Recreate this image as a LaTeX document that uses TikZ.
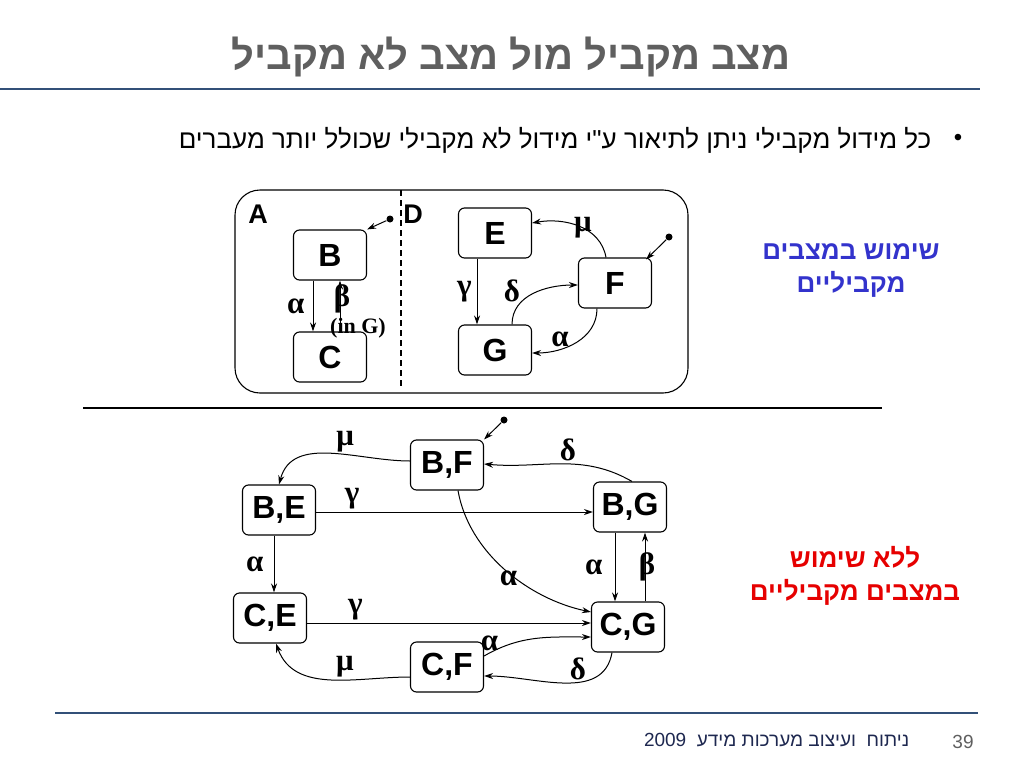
\documentclass[tikz,border=0pt]{standalone}
\usepackage{fontspec}
\setmainfont{Liberation Sans}
\newfontfamily\heb[Script=Hebrew]{Liberation Sans}
\newfontfamily\grk{Liberation Serif}
\TeXXeTstate=1
\usepackage{tikz}
\usetikzlibrary{arrows.meta}
\definecolor{titlegray}{RGB}{95,95,95}
\definecolor{rulenavy}{RGB}{50,80,120}
\definecolor{footnavy}{RGB}{30,40,80}
\definecolor{hebblue}{RGB}{51,51,204}
\definecolor{hebred}{RGB}{230,0,0}
\newcommand{\stfont}{\fontsize{32}{36}\selectfont\bfseries}
\newcommand{\grfont}{\fontsize{31}{36}\selectfont\grk\bfseries}
\tikzstyle{stbox}=[draw, rounded corners=6pt, minimum width=73pt, minimum height=50pt, line width=1.1pt, font=\stfont, inner sep=0pt]
\tikzstyle{trans}=[->, >={Stealth[length=9pt,width=6pt]}, line width=1pt]
\tikzstyle{lbl}=[font=\grfont, inner sep=2pt]
\tikzstyle{inidot}=[circle, fill, inner sep=0pt, minimum size=7pt]
\tikzset{every picture/.style={
    line width=1
  }
}

\begin{document}
\begin{tikzpicture}[x=1pt, y=-1pt]
      \useasboundingbox (0,0) rectangle (1024,768);
      % title and bullet
      \node[text=titlegray, font=\fontsize{40}{46}\selectfont\heb\bfseries] at (511,57) (title) {\beginR מצב מקביל מול מצב לא מקביל\endR};
      \draw[rulenavy, line width=1.2pt] (0,89) -- (980,89);
      \node[font=\fontsize{24}{28}\selectfont] at (958,140) (bullet) {•};
      \node[anchor=east, font=\fontsize{26}{30}\selectfont\heb] at (935,140) (intro) {\beginR כל מידול מקבילי ניתן לתיאור ע"י מידול לא מקבילי שכולל יותר מעברים\endR};

      % parallel states
      \draw[line width=1.1pt, rounded corners=25pt] (235,190) rectangle (688,393);
      \draw[dash pattern=on 6pt off 4pt, line width=1.1pt] (401,190) -- (401,388);
      \node[font=\fontsize{27}{30}\selectfont\bfseries] at (258,214) (A) {A};
      \node[font=\fontsize{27}{30}\selectfont\bfseries] at (413,214) (D) {D};
      \node[stbox] at (330,255) (B) {B};
      \node[stbox] at (330,357) (C) {C};
      \node[stbox] at (495,233) (E) {E};
      \node[stbox] at (615,283) (F) {F};
      \node[stbox] at (495,350) (G) {G};
      \node[inidot] at (390,219) (iniB) {};
      \node[inidot] at (669,237) (iniF) {};
      \draw[trans] (iniB) -- (B.north east);
      \draw[trans] (iniF) -- ([xshift=-6pt,yshift=-2pt]F.north east);
      \draw[trans] ([xshift=-17pt]B.south) -- ([xshift=-17pt]B.south |- C.north) node[lbl, midway, left=6pt] {α};
      \draw[trans] ([xshift=10pt]C.north) -- ([xshift=10pt]C.north |- B.south) node[lbl, pos=0.64, xshift=2pt] {β}
        node[pos=0.07, xshift=18pt, font=\fontsize{22}{24}\selectfont\grk\bfseries, inner sep=0pt] {(in G)};
      \draw[trans] ([xshift=-18pt]E.south) -- ([xshift=-18pt]E.south |- G.north) node[lbl, midway, left=3pt] {γ};
      \draw[trans] ([xshift=-9pt]F.north) to[out=100, in=10] node[lbl, pos=0.45] {μ} ([yshift=10pt]E.east);
      \draw[trans] ([xshift=17pt]G.north) to[out=90, in=180] node[lbl, pos=0.3, above left=-2pt] {δ} ([yshift=-2pt]F.west);
      \draw[trans] ([xshift=-18pt]F.south) to[out=-90, in=0] node[lbl, pos=0.6, above left=-3pt] {α} ([yshift=-3pt]G.east);

      \draw[line width=1.1pt] (83,408) -- (882,408);

      % flattened states
      \node[stbox] at (447,465) (BF) {B,F};
      \node[stbox] at (279,510) (BE) {B,E};
      \node[stbox] at (630,507) (BG) {B,G};
      \node[stbox] at (270,618) (CE) {C,E};
      \node[stbox] at (628,627) (CG) {C,G};
      \node[stbox] at (447,667) (CF) {C,F};
      \node[inidot] at (504,420) (iniBF) {};
      \draw[trans] (iniBF) -- (BF.north east);
      \draw[trans] ([yshift=4pt]BF.west) to[out=180, in=75] node[lbl, pos=0.4, above] {μ} (BE.north);
      \draw[trans] ([xshift=2pt]BG.north) to[out=150, in=-5] node[lbl, pos=0.45, above] {δ} ([yshift=1pt]BF.east);
      \draw[trans] ([yshift=-2pt]BE.east) -- ([yshift=-2pt]BE.east -| BG.west) node[lbl, pos=0.13, above] {γ};
      \draw[trans] ([xshift=-5pt]BE.south) -- ([xshift=-5pt]BE.south |- CE.north) node[lbl, midway, left=8pt] {α};
      \draw[trans] ([xshift=11pt]BF.south) to[out=-80, in=168, looseness=0.9] node[lbl, pos=0.55, below left=-7pt] {α} ([yshift=15pt]CG.west);
      \draw[trans] ([xshift=-15pt]BG.south) -- ([xshift=-15pt]BG.south |- CG.north) node[lbl, midway, left=10pt] {α};
      \draw[trans] ([xshift=17pt]CG.north) -- ([xshift=17pt]CG.north |- BG.south) node[lbl, midway, xshift=2pt] {β};
      \draw[trans] ([yshift=-5pt]CE.east) -- ([yshift=-5pt]CE.east -| CG.west) node[lbl, pos=0.17, above] {γ};
      \draw[trans] ([yshift=11pt]CF.east) to[out=30, in=180] node[lbl, pos=0.05, above] {α} ([yshift=-10pt]CG.west);
      \draw[trans] ([xshift=-16pt]CG.south) to[out=-100, in=0] node[lbl, pos=0.4, above] {δ} ([yshift=-9pt]CF.east);
      \draw[trans] ([yshift=-10pt]CF.west) to[out=180, in=-70] node[lbl, pos=0.4, above] {μ} ([xshift=6pt]CE.south);

      % side notes
      \node[align=center, text=hebblue, font=\fontsize{26}{33}\selectfont\heb\bfseries] at (851,271) (withpar) {\beginR שימוש במצבים\endR\\\beginR מקביליים\endR};
      \node[align=center, text=hebred, font=\fontsize{26}{33}\selectfont\heb\bfseries] at (855,576) (nopar) {\beginR ללא שימוש\endR\\\beginR במצבים מקביליים\endR};

      % footer
      \draw[rulenavy, line width=1.2pt] (55,713) -- (978,713);
      \node[anchor=east, text=footnavy, font=\fontsize{19}{22}\selectfont\heb] at (913,740) (foot) {\beginR ניתוח\ \ ועיצוב מערכות מידע\ \ \beginL 2009\endL\endR};
      \node[text=titlegray, font=\fontsize{19}{22}\selectfont] at (963,742) (page) {39};
    \end{tikzpicture}
\end{document}
